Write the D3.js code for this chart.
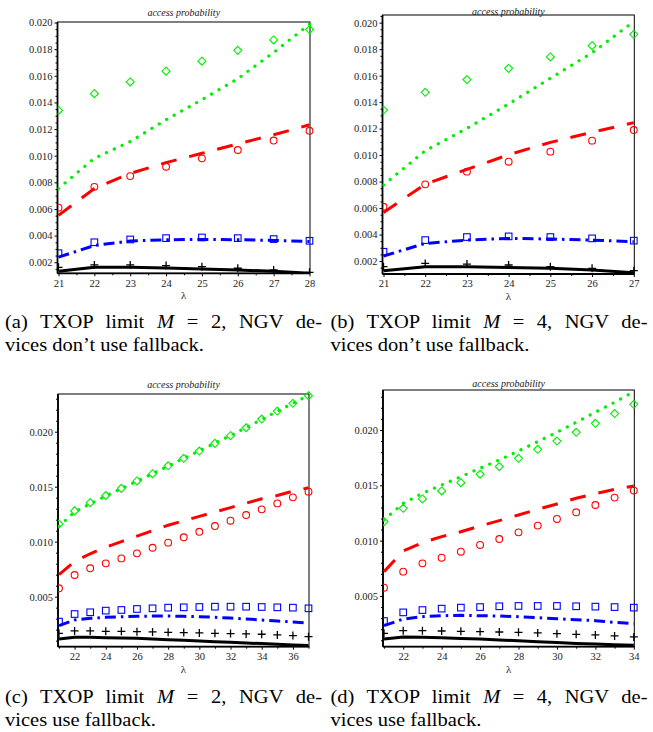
<!DOCTYPE html>
<html><head><meta charset="utf-8">
<script src="https://cdn.jsdelivr.net/npm/d3@7"></script>
<style>
body{margin:0;background:#fff;}
svg{display:block;}
</style></head><body>
<svg id="c" width="653" height="732" font-family="'Liberation Serif','Times New Roman',serif"></svg>
<script>
// ---------- data ----------
const lambdaA = [21,22,23,24,25,26,27,28];
const greenMarkA = [0.0134,0.01466,0.01554,0.01635,0.0171,0.01791,0.01869,0.01947];
const greenLineA = [0.00754,0.0098,0.01106,0.0127,0.01421,0.01578,0.01775,0.01987];
const redMarkA   = [0.0061,0.00766,0.00847,0.00917,0.0098,0.01043,0.01114,0.01187];
const redLineA   = [0.00552,0.00754,0.00867,0.00948,0.01018,0.01089,0.01157,0.01232];
const blueMarkA  = [0.00268,0.0035,0.00371,0.00381,0.00386,0.00381,0.00374,0.00361];
const blueLineA  = [0.00238,0.00326,0.00359,0.00369,0.00371,0.00369,0.00364,0.00356];
const blackMarkA = [0.00162,0.0018,0.0018,0.00175,0.00167,0.00155,0.00142,0.00124];
const blackLineA = [0.00132,0.00162,0.00162,0.00157,0.0015,0.00142,0.00132,0.00117];

const lambdaB = [21,22,23,24,25,26,27];
const greenMarkB = [0.0134,0.01474,0.0157,0.01655,0.01741,0.01826,0.01912];
const greenLineB = [0.00774,0.01033,0.01202,0.01386,0.0158,0.01773,0.02008];
const redMarkB   = [0.0061,0.00779,0.00875,0.0095,0.01026,0.01109,0.01189];
const redLineB   = [0.00567,0.00781,0.00892,0.01003,0.01096,0.01172,0.01245];
const blueMarkB  = [0.0027,0.00358,0.00381,0.00386,0.00381,0.00371,0.00354];
const blueLineB  = [0.00238,0.00333,0.00358,0.00371,0.00366,0.00358,0.00346];
const blackMarkB = [0.00157,0.00182,0.00177,0.0017,0.00157,0.00145,0.00127];
const blackLineB = [0.00127,0.00157,0.00157,0.00152,0.00145,0.00132,0.00112];

const lambdaC = [21,22,23,24,25,26,27,28,29,30,31,32,33,34,35,36,37];
const greenMarkC = [0.0116,0.0128,0.01355,0.0142,0.01485,0.01552,0.01618,0.0169,0.01758,0.01824,0.01894,0.01964,0.02036,0.02115,0.02188,0.02258,0.02327];
const greenLineC = [0.0114,0.0127,0.01345,0.01415,0.01482,0.0155,0.01618,0.01688,0.01758,0.01826,0.01896,0.01966,0.02038,0.02112,0.02186,0.02258,0.0233];
const redMarkC   = [0.00576,0.00697,0.00758,0.00803,0.00848,0.00894,0.00945,0.00991,0.0104,0.0109,0.01142,0.01191,0.01242,0.01294,0.01348,0.01403,0.01455];
const redLineC   = [0.0070,0.0082,0.0089,0.0095,0.0100,0.0105,0.0110,0.0115,0.0119,0.0123,0.0127,0.0131,0.0135,0.0139,0.0142,0.0146,0.0149];
const blueMarkC  = [0.00273,0.00342,0.00358,0.00373,0.00379,0.00388,0.00394,0.004,0.00403,0.00406,0.00409,0.00409,0.00409,0.00406,0.00403,0.004,0.00394];
const blueLineC  = [0.00236,0.00288,0.00303,0.00312,0.00318,0.00321,0.00324,0.00324,0.00321,0.00318,0.00312,0.00306,0.00297,0.00288,0.00279,0.0027,0.00258];
const blackMarkC = [0.00167,0.00188,0.00188,0.00185,0.00185,0.00182,0.00179,0.00176,0.00173,0.0017,0.00167,0.00164,0.00161,0.00158,0.00152,0.00146,0.00136];
const blackLineC = [0.00115,0.0013,0.0013,0.00127,0.00124,0.00121,0.00115,0.00109,0.00103,0.00097,0.00091,0.00085,0.00079,0.00073,0.00067,0.00061,0.00055];

const lambdaD = [21,22,23,24,25,26,27,28,29,30,31,32,33,34];
const greenMarkD = [0.01172,0.01292,0.01377,0.01449,0.01524,0.016,0.01669,0.01744,0.01825,0.019,0.01979,0.0206,0.02148,0.02232];
const greenLineD = [0.01187,0.01337,0.01428,0.01503,0.01578,0.01654,0.01729,0.0181,0.01895,0.01979,0.02069,0.0216,0.0225,0.02346];
const redMarkD   = [0.00575,0.0072,0.00795,0.00846,0.009,0.00961,0.01015,0.01075,0.01136,0.01196,0.01256,0.01322,0.01389,0.01452];
const redLineD   = [0.0072,0.00907,0.00982,0.01036,0.01081,0.01133,0.01181,0.01232,0.01283,0.01331,0.01383,0.01425,0.01464,0.01494];
const blueMarkD  = [0.00274,0.00352,0.00373,0.00386,0.00395,0.004,0.00407,0.0041,0.0041,0.0041,0.00407,0.00404,0.004,0.00395];
const blueLineD  = [0.00232,0.00292,0.00313,0.00322,0.00325,0.00322,0.00319,0.00313,0.00304,0.00295,0.00286,0.00277,0.00262,0.0025];
const blackMarkD = [0.00163,0.00187,0.00187,0.00184,0.00181,0.00178,0.00175,0.00172,0.00166,0.0016,0.00154,0.00148,0.00139,0.0013];
const blackLineD = [0.00111,0.00129,0.00127,0.00123,0.00117,0.00111,0.00102,0.00096,0.00087,0.00081,0.00072,0.00066,0.0006,0.00054];

const xTicksAB = [21,22,23,24,25,26,27,28];
const xTicksCD = [22,24,26,28,30,32,34,36];
const yTicksAB = [0.002,0.004,0.006,0.008,0.010,0.012,0.014,0.016,0.018,0.020];
const yTicksCD = [0.005,0.010,0.015,0.020];

const titleText = "access probability";
const captions = [
  ["(a) TXOP limit |M| = 2, NGV de-", "vices don’t use fallback."],
  ["(b) TXOP limit |M| = 4, NGV de-", "vices don’t use fallback."],
  ["(c) TXOP limit |M| = 2, NGV de-", "vices use fallback."],
  ["(d) TXOP limit |M| = 4, NGV de-", "vices use fallback."]
];

// ---------- layout ----------
const panels = [
  {lam:lambdaA, gm:greenMarkA, gl:greenLineA, rm:redMarkA, rl:redLineA, bm:blueMarkA, bl:blueLineA, km:blackMarkA, kl:blackLineA,
   x0:57.5, x1:310, y0:22, y1:273.3, xd:[21,28], yd:[0.00117,0.02004], xt:xTicksAB.filter(v=>v<=28), xm:0.5, yt:yTicksAB, ym:0.0005, titleY:16, cap:captions[0], cx:5, cy:328},
  {lam:lambdaB, gm:greenMarkB, gl:greenLineB, rm:redMarkB, rl:redLineB, bm:blueMarkB, bl:blueLineB, km:blackMarkB, kl:blackLineB,
   x0:382.5, x1:634.3, y0:15, y1:274, xd:[21,27], yd:[0.00102,0.02058], xt:xTicksAB.filter(v=>v<=27), xm:0.5, yt:yTicksAB, ym:0.0005, titleY:14.5, cap:captions[1], cx:330.5, cy:328},
  {lam:lambdaC, gm:greenMarkC, gl:greenLineC, rm:redMarkC, rl:redLineC, bm:blueMarkC, bl:blueLineC, km:blackMarkC, kl:blackLineC,
   x0:58, x1:309, y0:394, y1:646.7, xd:[21,37], yd:[0.00045,0.02343], xt:xTicksCD, xm:1, yt:yTicksCD, ym:0.001, titleY:388, cap:captions[2], cx:5, cy:703},
  {lam:lambdaD, gm:greenMarkD, gl:greenLineD, rm:redMarkD, rl:redLineD, bm:blueMarkD, bl:blueLineD, km:blackMarkD, kl:blackLineD,
   x0:383, x1:634.3, y0:390, y1:646.7, xd:[21,34], yd:[0.00042,0.02361], xt:xTicksCD.filter(v=>v<=34), xm:1, yt:yTicksCD, ym:0.001, titleY:387, cap:captions[3], cx:330.5, cy:703}
];

const GREEN="#00ee00", RED="#ff0000", BLUE="#0000ff", BLACK="#000000";
const FONT = "'Liberation Serif','Times New Roman',serif";
const svg = d3.select("#c");

panels.forEach(p=>{
  const g = svg.append("g");
  const x = d3.scaleLinear().domain(p.xd).range([p.x0+1, p.x1-0.5]);
  const y = d3.scaleLinear().domain(p.yd).range([p.y1, p.y0]);
  const clipId = "clip"+Math.round(p.x0)+"_"+Math.round(p.y0);
  svg.append("clipPath").attr("id",clipId).append("rect")
    .attr("x",p.x0).attr("y",p.y0-4).attr("width",p.x1-p.x0+4).attr("height",p.y1-p.y0+4);

  // axes
  const yAxis = d3.axisLeft(y).tickValues(p.yt).tickFormat(d3.format(".3f")).tickSize(3).tickPadding(2);
  g.append("g").attr("transform",`translate(${p.x0},0)`).call(yAxis);
  const minorY = d3.range(Math.ceil(p.yd[0]/p.ym)*p.ym, p.yd[1], p.ym).filter(v=>!p.yt.some(t=>Math.abs(t-v)<1e-9));
  g.append("g").attr("transform",`translate(${p.x0},0)`).call(d3.axisLeft(y).tickValues(minorY).tickFormat("").tickSize(2));
  const xAxis = d3.axisBottom(x).tickValues(p.xt).tickFormat(d3.format("d")).tickSize(3).tickPadding(3);
  g.append("g").attr("transform",`translate(0,${p.y1})`).call(xAxis);
  const minorX = d3.range(p.xd[0], p.xd[1]+1e-9, p.xm).filter(v=>!p.xt.includes(v));
  g.append("g").attr("transform",`translate(0,${p.y1})`).call(d3.axisBottom(x).tickValues(minorX).tickFormat("").tickSize(2));
  g.selectAll(".domain").remove();
  g.selectAll("g").attr("font-family",FONT);
  g.selectAll(".tick line").attr("stroke","#000").attr("stroke-width",1);
  g.selectAll(".tick text").attr("font-size","10.5px").attr("fill","#222").attr("font-family",FONT);

  // frame
  g.append("rect").attr("x",p.x0).attr("y",p.y0).attr("width",p.x1-p.x0).attr("height",p.y1-p.y0)
    .attr("fill","none").attr("stroke","#000").attr("stroke-width",1);
  g.append("line").attr("x1",p.x0).attr("x2",p.x0).attr("y1",p.y0).attr("y2",p.y1).attr("stroke","#000").attr("stroke-width",1.8);
  g.append("line").attr("x1",p.x0).attr("x2",p.x1).attr("y1",p.y1).attr("y2",p.y1).attr("stroke","#000").attr("stroke-width",1.8);

  // title + xlabel
  g.append("text").attr("x",(p.x0+p.x1)/2).attr("y",p.titleY).attr("text-anchor","middle").attr("font-family",FONT)
    .attr("font-size","10px").attr("font-style","italic").attr("fill","#222").text(titleText);
  g.append("text").attr("x",(p.x0+p.x1)/2).attr("y",p.y1+26).attr("text-anchor","middle").attr("font-family",FONT)
    .attr("font-size","11px").attr("fill","#222").text("λ");

  const plot = g.append("g").attr("clip-path",`url(#${clipId})`);
  const line = d3.line().x(d=>x(d[0])).y(d=>y(d[1]));
  const pairs = arr => p.lam.map((l,i)=>[l,arr[i]]);

  // lines
  plot.append("path").datum(pairs(p.kl)).attr("d",line).attr("fill","none").attr("stroke",BLACK).attr("stroke-width",3);
  plot.append("path").datum(pairs(p.bl)).attr("d",line).attr("fill","none").attr("stroke",BLUE).attr("stroke-width",3)
    .attr("stroke-dasharray","11 5 2.5 5");
  plot.append("path").datum(pairs(p.rl)).attr("d",line).attr("fill","none").attr("stroke",RED).attr("stroke-width",3)
    .attr("stroke-dasharray","16 13");
  plot.append("path").datum(pairs(p.gl)).attr("d",line).attr("fill","none").attr("stroke",GREEN).attr("stroke-width",3.2)
    .attr("stroke-linecap","round").attr("stroke-dasharray","0.1 8.5");

  // markers
  plot.selectAll(".pk").data(pairs(p.km)).join("path").attr("transform",d=>`translate(${x(d[0])},${y(d[1])})`)
    .attr("d","M-4,0H4M0,-4V4").attr("stroke",BLACK).attr("stroke-width",1.3).attr("fill","none");
  plot.selectAll(".pb").data(pairs(p.bm)).join("rect").attr("x",d=>x(d[0])-3.3).attr("y",d=>y(d[1])-3.3)
    .attr("width",6.6).attr("height",6.6).attr("fill","none").attr("stroke",BLUE).attr("stroke-width",1.1);
  plot.selectAll(".pr").data(pairs(p.rm)).join("circle").attr("cx",d=>x(d[0])).attr("cy",d=>y(d[1])).attr("r",3.4)
    .attr("fill","none").attr("stroke",RED).attr("stroke-width",1.1);
  plot.selectAll(".pg").data(pairs(p.gm)).join("path").attr("transform",d=>`translate(${x(d[0])},${y(d[1])})`)
    .attr("d","M0,-4L4,0L0,4L-4,0Z").attr("fill","none").attr("stroke",GREEN).attr("stroke-width",1.1);

  // caption (serif text, first line justified to column width)
  const capW = 317, sx = 1.08;
  p.cap.forEach((ln,li)=>{
    const cg = svg.append("g").attr("transform",`translate(${p.cx},${p.cy+li*22.5}) scale(${sx},1)`);
    const t = cg.append("text").attr("x",0).attr("y",0).attr("font-size","19px").attr("fill","#000")
      .attr("font-family",FONT).attr("xml:space","preserve");
    ln.split("|").forEach((part,pi)=>{
      t.append("tspan").attr("font-style",pi===1?"italic":"normal").text(part);
    });
    if(li===0){
      const w = t.node().getComputedTextLength();
      const spaces = (ln.match(/ /g)||[]).length;
      t.attr("word-spacing",((capW/sx-w)/spaces).toFixed(2));
    }
  });
});
</script>
</body></html>
